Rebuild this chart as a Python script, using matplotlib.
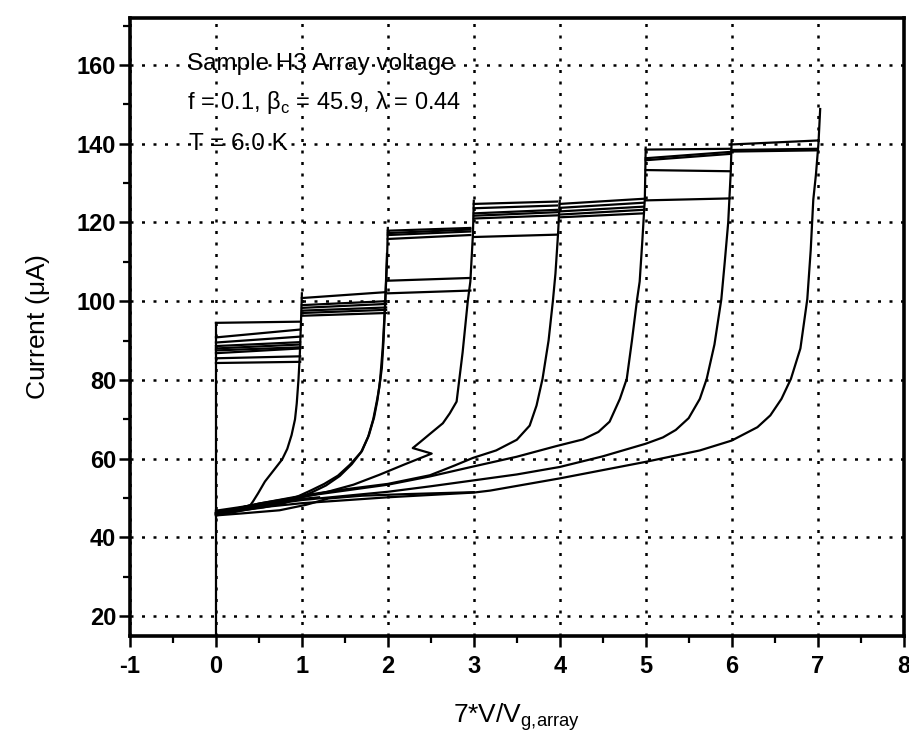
import matplotlib
matplotlib.use("Agg")
import matplotlib.pyplot as plt
from matplotlib.ticker import MultipleLocator

plt.rcParams['font.family'] = ['Liberation Sans', 'DejaVu Sans']
plt.rcParams['mathtext.fontset'] = 'custom'
plt.rcParams['mathtext.rm'] = 'Liberation Sans'
plt.rcParams['axes.unicode_minus'] = False

# ---------------- data ----------------
# vertical (zero-voltage) branch
zero_x = [0.0, 0.0]
zero_y = [0.0, 94.5]

# switching jumps (plateau lines) : y at start (x=n) and end (x=n+1)
step0_start = [84.3, 85.5, 86.8, 87.5, 88.0, 88.6, 89.5, 90.8, 94.5]
step0_end = [84.6, 86.0, 88.0, 88.3, 89.0, 89.6, 91.0, 92.8, 94.8]
step1_start = [96.3, 97.0, 97.6, 98.3, 99.0, 100.8]
step1_end = [97.0, 97.8, 98.4, 99.3, 100.0, 102.3]
step2_start = [102.0, 105.2, 115.8, 116.8, 117.3, 117.9]
step2_end = [102.7, 105.9, 116.8, 117.7, 118.2, 118.6]
step3_start = [116.3, 121.0, 121.7, 122.3, 123.6, 124.7]
step3_end = [116.9, 121.8, 122.6, 123.2, 124.3, 125.3]
step4_start = [121.3, 122.0, 122.8, 123.7, 124.7]
step4_end = [122.3, 123.2, 124.0, 125.0, 126.0]
step5_start = [125.6, 133.3, 135.8, 136.3, 138.5]
step5_end = [126.1, 133.0, 137.4, 137.9, 138.7]
step6_start = [138.0, 138.4, 139.8]
step6_end = [138.3, 138.7, 140.8]
step_x0 = [0.0, 1.0, 2.0, 3.0, 4.0, 5.0, 6.0]
step_x1 = [0.98, 1.98, 2.96, 3.97, 4.97, 5.98, 6.99]

# retrapping (return) branches
ret1_x = [1.00, 0.99, 0.975, 0.96, 0.94, 0.92, 0.88, 0.83, 0.77, 0.67, 0.57, 0.49, 0.43, 0.40, 0.30, 0.15, 0.0]
ret1_y = [102.0, 95.0, 86.0, 80.0, 74.0, 70.0, 66.0, 62.5, 59.8, 57.0, 54.2, 51.2, 49.1, 48.2, 47.6, 47.0, 46.3]

ret2_x = [2.00, 1.99, 1.97, 1.95, 1.93, 1.90, 1.87, 1.83, 1.77, 1.69, 1.56, 1.42, 1.26, 1.11, 0.95, 0.80, 0.60, 0.40, 0.20, 0.0]
ret2_y = [118.6, 110.0, 100.0, 90.0, 83.0, 78.0, 74.4, 70.0, 65.5, 61.7, 58.5, 55.7, 53.6, 52.0, 50.4, 49.3, 48.3, 47.5, 46.8, 46.0]
ret2b_x = [1.99, 1.97, 1.94, 1.91, 1.88, 1.84, 1.78, 1.70, 1.58, 1.44, 1.28, 1.12, 0.96, 0.78, 0.55, 0.30, 0.0]
ret2b_y = [112.0, 100.0, 88.0, 80.0, 75.0, 70.5, 66.0, 62.0, 58.6, 55.6, 53.2, 51.5, 50.0, 48.6, 47.6, 46.9, 45.8]

ret3_x = [3.00, 2.99, 2.96, 2.93, 2.87, 2.80, 2.72, 2.64, 2.49, 2.38, 2.29, 2.51, 2.20, 1.90, 1.60, 1.30, 1.00, 0.50, 0.0]
ret3_y = [125.5, 117.0, 105.0, 100.0, 87.0, 74.5, 71.5, 69.0, 66.3, 64.3, 62.7, 61.3, 58.6, 55.9, 53.4, 51.6, 50.2, 48.3, 46.3]

ret4_x = [4.00, 3.98, 3.95, 3.92, 3.87, 3.80, 3.73, 3.65, 3.50, 3.26, 2.99, 2.78, 2.49, 2.00, 1.42, 1.00, 0.50, 0.0]
ret4_y = [125.5, 117.0, 107.0, 100.0, 90.0, 80.3, 73.5, 68.4, 64.8, 62.1, 60.2, 58.3, 55.8, 53.6, 52.0, 50.6, 48.6, 46.2]

ret5_x = [5.00, 4.99, 4.96, 4.93, 4.90, 4.84, 4.78, 4.70, 4.58, 4.45, 4.27, 3.96, 3.50, 2.99, 2.49, 2.00, 1.00, 0.50, 0.0]
ret5_y = [139.0, 126.0, 115.0, 105.0, 100.5, 90.0, 80.3, 75.2, 69.4, 66.8, 64.9, 63.2, 60.5, 58.0, 55.5, 53.4, 50.4, 48.6, 46.0]

ret6_x = [6.00, 5.99, 5.96, 5.92, 5.88, 5.80, 5.71, 5.63, 5.50, 5.35, 5.20, 5.00, 4.50, 4.00, 3.50, 3.00, 2.50, 2.00, 1.00, 0.50, 0.0]
ret6_y = [140.8, 133.0, 120.0, 110.0, 100.5, 89.0, 80.3, 75.2, 70.3, 67.3, 65.4, 63.8, 60.6, 57.9, 56.0, 54.5, 53.0, 51.6, 49.5, 48.0, 45.8]

ret7_x = [7.03, 7.01, 6.98, 6.95, 6.92, 6.88, 6.80, 6.69, 6.58, 6.45, 6.30, 6.00, 5.63, 5.00, 4.00, 3.19, 3.00, 2.00, 1.00, 0.50, 0.0]
ret7_y = [148.8, 140.0, 132.0, 125.8, 113.0, 100.5, 88.0, 80.3, 75.2, 71.0, 68.0, 64.6, 62.1, 59.2, 55.0, 51.9, 51.4, 50.2, 48.7, 47.6, 45.6]

base_a_x = [0.0, 0.30, 0.74, 1.05, 1.31, 1.70, 2.20, 3.00]
base_a_y = [45.6, 46.1, 46.9, 48.3, 49.9, 50.6, 51.0, 51.5]
base_b_x = [0.0, 0.25, 0.55, 0.90, 1.20]
base_b_y = [46.8, 47.6, 48.6, 49.6, 50.2]

x_ticks = [-1, 0, 1, 2, 3, 4, 5, 6, 7, 8]
y_ticks = [20, 40, 60, 80, 100, 120, 140, 160]

# ---------------- plot ----------------
fig = plt.figure(figsize=(9.09, 7.36), dpi=100)
ax = fig.add_axes([0.143, 0.136, 0.851, 0.840])

lw = 1.6
ax.plot(zero_x, zero_y, color='black', lw=lw)

steps = [(step0_start, step0_end), (step1_start, step1_end), (step2_start, step2_end),
         (step3_start, step3_end), (step4_start, step4_end), (step5_start, step5_end),
         (step6_start, step6_end)]
for i, (ys, ye) in enumerate(steps):
    for a, b in zip(ys, ye):
        ax.plot([step_x0[i], step_x1[i]], [a, b], color='black', lw=lw)

for xs, ys in [(ret1_x, ret1_y), (ret2_x, ret2_y), (ret2b_x, ret2b_y), (ret3_x, ret3_y),
               (ret4_x, ret4_y), (ret5_x, ret5_y), (ret6_x, ret6_y), (ret7_x, ret7_y),
               (base_a_x, base_a_y), (base_b_x, base_b_y)]:
    ax.plot(xs, ys, color='black', lw=lw)

ax.set_xlim(-1, 8)
ax.set_ylim(15, 172)
ax.set_xticks(x_ticks)
ax.set_yticks(y_ticks)
ax.xaxis.set_minor_locator(MultipleLocator(0.5))
ax.yaxis.set_minor_locator(MultipleLocator(10))
ax.tick_params(which='major', direction='out', length=8, width=1.8, labelsize=17, pad=2)
ax.tick_params(axis='x', which='major', pad=6)
ax.tick_params(which='minor', direction='out', length=5, width=1.6)
for lab in ax.get_xticklabels() + ax.get_yticklabels():
    lab.set_fontweight('bold')
ax.grid(True, which='major', color='black', linestyle=(0, (1.2, 3.4)), linewidth=1.8)
for s in ax.spines.values():
    s.set_linewidth(2.6)

ax.set_ylabel('Current ($\\mathregular{\\mu}$A)', fontsize=19, labelpad=18)
ax.set_xlabel('7*V/V$_{\\mathregular{g{,}array}}$', fontsize=19, labelpad=16)

ax.text(-0.34, 160.2, 'Sample H3 Array voltage', fontsize=17.5, va='center', ha='left')
ax.text(-0.34, 150.4, 'f = 0.1, β$_{\\mathregular{c}}$ = 45.9, λ = 0.44', fontsize=17, va='center', ha='left')
ax.text(-0.31, 139.8, 'T = 6.0 K', fontsize=17.5, va='center', ha='left')

fig.savefig('out.png', dpi=100)
